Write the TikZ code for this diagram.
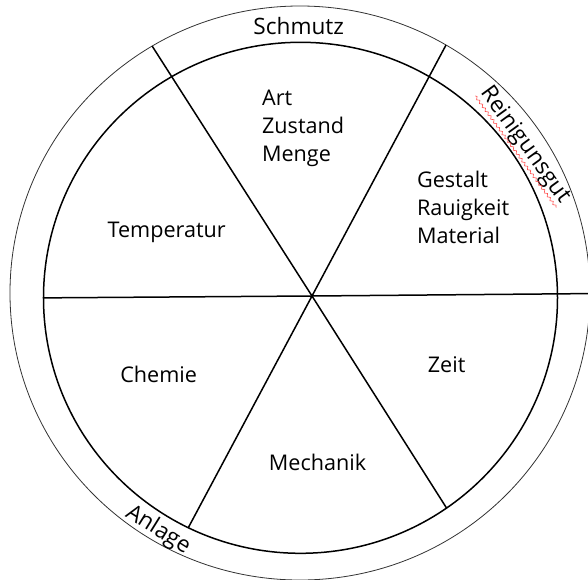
\documentclass[tikz,border=0pt]{standalone}
\usepackage{fontspec}
\setmainfont{Open Sans}
\usetikzlibrary{decorations.pathmorphing}

\tikzset{
	rim/.style={line width=0.4pt, black!80},
	wheel/.style={line width=0.75pt, black},
	ringlabel/.style={inner sep=0pt, font=\fontsize{11.3}{14}\selectfont},
	sectorlabel/.style={inner sep=0pt, align=left, font=\fontsize{10.8}{14}\selectfont},
	squiggle/.style={red!70, line width=0.3pt, decorate,
		decoration={snake, amplitude=0.6pt, segment length=2.4pt}}
}

\begin{document}
\begin{tikzpicture}[x=0.5pt, y=0.5pt]
		\useasboundingbox (-312, -283) rectangle (276, 296);
		\clip (-312, -283) rectangle (276, 296);

		\coordinate (O) at (0, 0);
		\coordinate (M) at (-11.5, -1.8);
		\coordinate (N) at (-12, 3);

		\coordinate (A1) at (122.6:296.6);
		\coordinate (A2) at (302.4:251.1);

		\coordinate (B1) at (61.9:284.5);
		\coordinate (B2) at (241.9:262.7);

		\coordinate (C1) at (180.4:268.5);
		\coordinate (C2) at (0.5:300);

		\draw[rim] (N) ellipse (290 and 287);
		\draw[wheel] (M) ellipse (257 and 255.5);

		\draw[wheel] (A1) -- (O) -- (A2);
		\draw[wheel] (B1) -- (O) -- (B2);
		\draw[wheel] (C1) -- (O) -- (C2);

		\node[ringlabel, anchor=base] (schmutz) at (-13.3, 261.7) {Schmutz};
		\node[ringlabel, rotate=-54] (reinig) at (213, 151) {Reinigunsgut};
		\node[ringlabel, rotate=-32] (anlage) at (-154, -234) {Anlage};
		\draw[squiggle] (reinig.south west) -- (reinig.south east);

		\node[sectorlabel, anchor=base west] (schmutzart) at (-50.3, 135) {Art\\Zustand\\Menge};
		\node[sectorlabel, anchor=base west] (gutart) at (104.7, 52.7) {Gestalt\\Rauigkeit\\Material};
		\node[sectorlabel, anchor=base] (temp) at (-145.3, 58.3) {Temperatur};
		\node[sectorlabel, anchor=base] (chemie) at (-153.4, -86.5) {Chemie};
		\node[sectorlabel, anchor=base] (zeit) at (134.6, -76) {Zeit};
		\node[sectorlabel, anchor=base] (mechanik) at (5.5, -174.6) {Mechanik};
	\end{tikzpicture}
\end{document}
